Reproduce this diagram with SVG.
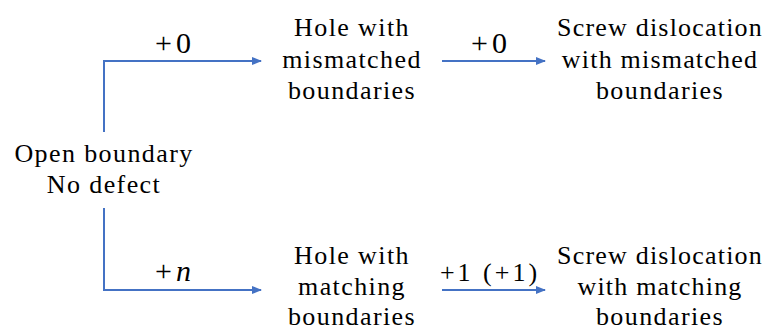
<svg xmlns="http://www.w3.org/2000/svg" width="767" height="331" viewBox="0 0 767 331">
<style>
.c{stroke:#4472C4;stroke-width:2;fill:none}
</style>
<defs>
<marker id="ah" markerWidth="10" markerHeight="8" refX="9" refY="4" orient="auto" markerUnits="userSpaceOnUse">
<path d="M0,0 L10,4 L0,8 Z" fill="#4472C4"/>
</marker>
</defs>
<rect width="767" height="331" fill="#fff"/>
<g id="connectors" font-family="Liberation Serif">
<path class="c" d="M104,132 V61 H261" marker-end="url(#ah)"/>
<path class="c" d="M104,208 V290 H261" marker-end="url(#ah)"/>
<path class="c" d="M442,61 H545" marker-end="url(#ah)"/>
<path class="c" d="M442,290 H545" marker-end="url(#ah)"/>
<text font-family="Liberation Serif" font-size="30" text-anchor="middle" letter-spacing="4" x="175" y="53">+0</text>
<text font-family="Liberation Serif" font-size="30" text-anchor="middle" letter-spacing="4" x="175" y="281">+<tspan font-style="italic">n</tspan></text>
<text font-family="Liberation Serif" font-size="30" text-anchor="middle" letter-spacing="4" x="491" y="53">+0</text>
<text font-family="Liberation Serif" font-size="26" text-anchor="middle" letter-spacing="3" x="490" y="281">+1 (+1)</text>
</g>
<g id="start" font-family="Liberation Serif">
<text font-family="Liberation Serif" font-size="26" text-anchor="middle" letter-spacing="1.4" x="104" y="162">Open boundary</text>
<text font-family="Liberation Serif" font-size="26" text-anchor="middle" letter-spacing="1.4" x="104" y="193">No defect</text>
</g>
<g id="hole-mismatched" font-family="Liberation Serif">
<text font-family="Liberation Serif" font-size="26" text-anchor="middle" letter-spacing="1.4" x="352" y="36">Hole with</text>
<text font-family="Liberation Serif" font-size="26" text-anchor="middle" letter-spacing="1.4" x="352" y="68">mismatched</text>
<text font-family="Liberation Serif" font-size="26" text-anchor="middle" letter-spacing="1.4" x="352" y="99">boundaries</text>
</g>
<g id="screw-mismatched" font-family="Liberation Serif">
<text font-family="Liberation Serif" font-size="26" text-anchor="middle" letter-spacing="1.2" x="660" y="36">Screw dislocation</text>
<text font-family="Liberation Serif" font-size="26" text-anchor="middle" letter-spacing="1.2" x="660" y="68">with mismatched</text>
<text font-family="Liberation Serif" font-size="26" text-anchor="middle" letter-spacing="1.4" x="660" y="99">boundaries</text>
</g>
<g id="hole-matching" font-family="Liberation Serif">
<text font-family="Liberation Serif" font-size="26" text-anchor="middle" letter-spacing="1.4" x="352" y="264">Hole with</text>
<text font-family="Liberation Serif" font-size="26" text-anchor="middle" letter-spacing="1.4" x="352" y="295">matching</text>
<text font-family="Liberation Serif" font-size="26" text-anchor="middle" letter-spacing="1.4" x="352" y="325">boundaries</text>
</g>
<g id="screw-matching" font-family="Liberation Serif">
<text font-family="Liberation Serif" font-size="26" text-anchor="middle" letter-spacing="1.2" x="660" y="264">Screw dislocation</text>
<text font-family="Liberation Serif" font-size="26" text-anchor="middle" letter-spacing="1.2" x="660" y="295">with matching</text>
<text font-family="Liberation Serif" font-size="26" text-anchor="middle" letter-spacing="1.4" x="660" y="325">boundaries</text>
</g>
</svg>
